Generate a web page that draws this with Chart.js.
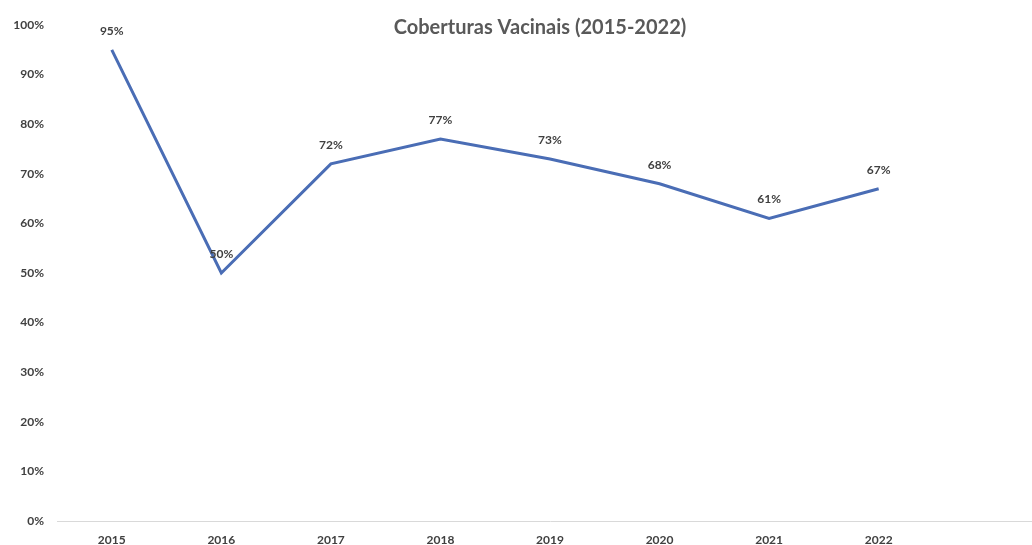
<!DOCTYPE html>
<html><head><meta charset="utf-8">
<script src="https://cdn.jsdelivr.net/npm/chart.js@4.4.1/dist/chart.umd.min.js"></script>
<style>html,body{margin:0;padding:0;background:#fff;overflow:hidden}#wrap{width:1043px;height:545px;position:relative}</style>
</head><body><div id="wrap"><canvas id="c"></canvas></div>
<script>
const categories = ['2015','2016','2017','2018','2019','2020','2021','2022',''];
const coverage = [95, 50, 72, 77, 73, 68, 61, 67, null];
const yTicks = [0,10,20,30,40,50,60,70,80,90,100];
const titleText = 'Coberturas Vacinais (2015-2022)';
const FONT = 'Lato, "Open Sans", sans-serif';

const labelPlugin = {
  id: 'labels',
  afterDatasetsDraw(chart) {
    const ctx = chart.ctx;
    const meta = chart.getDatasetMeta(0);
    ctx.save();
    ctx.font = 'bold 12px ' + FONT;
    ctx.fillStyle = '#404040';
    ctx.textAlign = 'center';
    ctx.textBaseline = 'middle';
    meta.data.forEach((p, i) => {
      if (coverage[i] == null) return;
      ctx.fillText(coverage[i] + '%', p.x, p.y - 19);
    });
    ctx.font = 'bold 20px ' + FONT;
    ctx.fillStyle = '#595959';
    ctx.fillText(titleText, 540, 28);
    ctx.restore();
  }
};

new Chart(document.getElementById('c'), {
  type: 'line',
  data: { labels: categories, datasets: [{ data: coverage, borderColor: '#4A6DB5', borderWidth: 3, pointRadius: 0, tension: 0, fill: false }] },
  options: {
    responsive: true, maintainAspectRatio: false, animation: false,
    layout: { padding: { top: 25, right: 0, left: 0, bottom: 0 } },
    plugins: { legend: { display: false }, tooltip: { enabled: false } },
    scales: {
      x: {
        offset: true,
        grid: { display: false, drawTicks: false },
        border: { display: true, color: '#d9d9d9', width: 1 },
        ticks: { padding: 12, color: '#404040', font: { family: FONT, size: 12, weight: 'bold' }, autoSkip: false, maxRotation: 0 },
        afterFit(s) { s.height = 24; }
      },
      y: {
        min: 0, max: 100,
        grid: { display: false, drawTicks: false },
        border: { display: false },
        afterBuildTicks(s) { s.ticks = yTicks.map(v => ({ value: v })); },
        ticks: { padding: 13, color: '#404040', font: { family: FONT, size: 12, weight: 'bold' }, callback: v => v + '%' },
        afterFit(s) { s.width = 57; }
      }
    }
  },
  plugins: [labelPlugin]
});
</script>
</body></html>
